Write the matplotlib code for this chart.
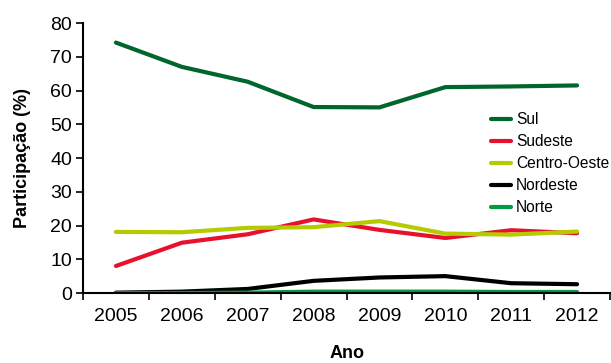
import matplotlib
matplotlib.use("Agg")
import matplotlib.pyplot as plt
import numpy as np

plt.rcParams['font.family'] = ['Liberation Sans', 'DejaVu Sans']

anos = ['2005', '2006', '2007', '2008', '2009', '2010', '2011', '2012']
sul = [74.2, 67.0, 62.6, 55.1, 55.0, 61.0, 61.2, 61.5]
sudeste = [8.0, 14.9, 17.4, 21.8, 18.7, 16.3, 18.6, 17.7]
centro_oeste = [18.1, 18.0, 19.3, 19.5, 21.3, 17.6, 17.3, 18.2]
nordeste = [0.1, 0.4, 1.2, 3.6, 4.6, 5.0, 2.9, 2.6]
norte = [0.0, 0.0, 0.1, 0.4, 0.4, 0.4, 0.3, 0.3]

series = [
    ('Sul', sul, '#00662E'),
    ('Sudeste', sudeste, '#E8112D'),
    ('Centro-Oeste', centro_oeste, '#B5CB00'),
    ('Nordeste', nordeste, '#000000'),
    ('Norte', norte, '#009A44'),
]

fig = plt.figure(figsize=(6.11, 3.63), dpi=100)
ax = fig.add_axes([83/611, 1 - 293/363, (610 - 83)/611, (293 - 23)/363])

x = np.arange(len(anos))
for nome, vals, cor in series:
    ax.plot(x, vals, color=cor, lw=3.0, label=nome, solid_capstyle='round',
            solid_joinstyle='round')

ax.set_xlim(-0.5, len(anos) - 0.5)
ax.set_ylim(0, 80)
ax.set_yticks(range(0, 81, 10))
ax.set_xticks(x)
ax.set_xticklabels(anos)
ax.set_xticks(np.arange(-0.5, len(anos), 1.0), minor=True)
ax.tick_params(axis='x', which='major', length=0, pad=11, labelsize=14)
ax.tick_params(axis='x', which='minor', length=5, width=1.2, direction='out')
ax.tick_params(axis='y', length=5, width=1.2, direction='out', labelsize=14, pad=3)

for s in ['top', 'right']:
    ax.spines[s].set_visible(False)
for s in ['left', 'bottom']:
    ax.spines[s].set_linewidth(1.5)

fig.text(23/611, 1 - 158/363, 'Participação (%)', rotation=90, ha='center',
         va='center', fontsize=13, fontweight='bold')
fig.text(347/611, 1 - 353/363, 'Ano', ha='center', va='center',
         fontsize=13, fontweight='bold')

leg = ax.legend(loc='upper left', bbox_to_anchor=((491 - 83)/527, 1 - (112 - 23)/270),
                frameon=False, fontsize=11.2, handlelength=1.3, handletextpad=0.3,
                labelspacing=0.45, borderaxespad=0, borderpad=0)

fig.savefig('out.png', dpi=100)
